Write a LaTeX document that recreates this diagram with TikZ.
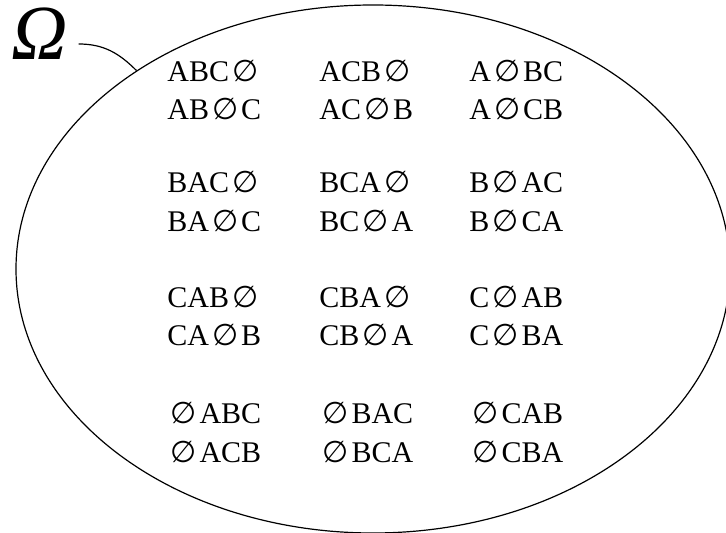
\documentclass[tikz,border=0pt]{standalone}
\usepackage{fontspec}
\setmainfont{Liberation Serif}
\newfontfamily\symfont{DejaVu Sans}
\usetikzlibrary{shapes.geometric}

% the empty symbol, taken from a font that has a round one
\newcommand{\nul}{\kern1.5pt{\symfont\fontsize{15}{15}\selectfont ∅}\kern1.5pt}

\begin{document}
\begin{tikzpicture}[
    x=0.5pt, y=-0.5pt,
    word/.style={anchor=base west, inner sep=0pt, font=\fontsize{15}{18}\selectfont},
    bigset/.style={ellipse, draw, line width=0.6pt, inner sep=0pt,
                minimum width=357pt, minimum height=264pt},
    lead/.style={line width=0.6pt},
  ]
  \useasboundingbox (0,0) rectangle (726,533);
  \clip (0,0) rectangle (726,533);

  % === Sample space ===
  \node[bigset] (space) at (373,269) {};
  \node[font=\fontsize{39}{39}\selectfont, inner sep=5pt] (omega) at (40,34) {\textit{Ω}};
  \draw[lead] ([yshift=-5pt]omega.east) to[out=0, in=135] (space.140);

  % === A first ===
  \node[word] (abc0) at (167,82)  {ABC\nul};
  \node[word] (acb0) at (319,82)  {ACB\nul};
  \node[word] (a0bc) at (469,82)  {A\nul BC};
  \node[word] (ab0c) at (167,120) {AB\nul C};
  \node[word] (ac0b) at (319,120) {AC\nul B};
  \node[word] (a0cb) at (469,120) {A\nul CB};

  % === B first ===
  \node[word] (bac0) at (167,193) {BAC\nul};
  \node[word] (bca0) at (319,193) {BCA\nul};
  \node[word] (b0ac) at (469,193) {B\nul AC};
  \node[word] (ba0c) at (167,232) {BA\nul C};
  \node[word] (bc0a) at (319,232) {BC\nul A};
  \node[word] (b0ca) at (469,232) {B\nul CA};

  % === C first ===
  \node[word] (cab0) at (167,307) {CAB\nul};
  \node[word] (cba0) at (319,307) {CBA\nul};
  \node[word] (c0ab) at (469,307) {C\nul AB};
  \node[word] (ca0b) at (167,345) {CA\nul B};
  \node[word] (cb0a) at (319,345) {CB\nul A};
  \node[word] (c0ba) at (469,345) {C\nul BA};

  % === Empty first ===
  \node[word] (0abc) at (167,423) {\nul ABC};
  \node[word] (0bac) at (319,423) {\nul BAC};
  \node[word] (0cab) at (469,423) {\nul CAB};
  \node[word] (0acb) at (167,462) {\nul ACB};
  \node[word] (0bca) at (319,462) {\nul BCA};
  \node[word] (0cba) at (469,462) {\nul CBA};

\end{tikzpicture}
\end{document}
